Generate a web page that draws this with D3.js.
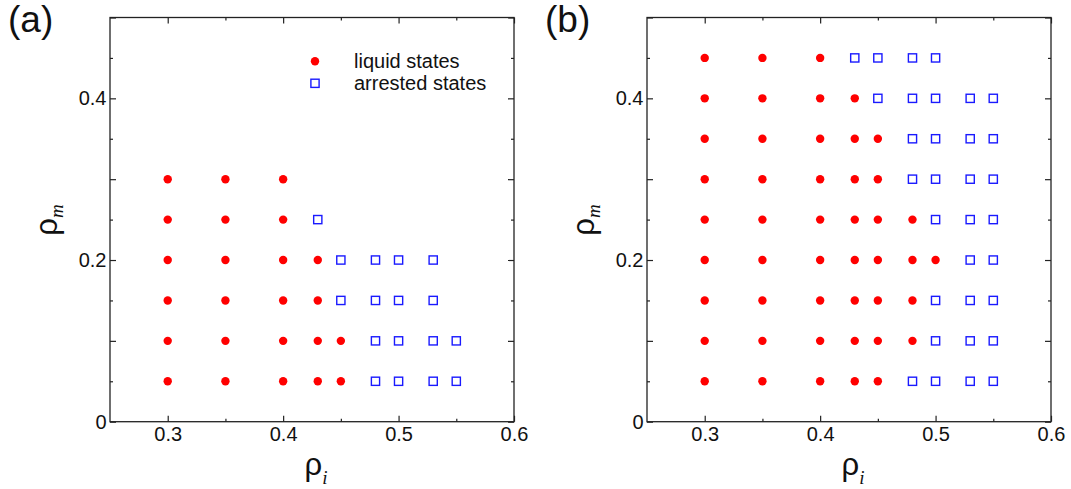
<html>
  <head>
    <meta charset="UTF-8" />
    <script src="https://d3js.org/d3.v7.min.js"></script>
    <style>
      body { margin: 0; background: #fff; }
      text { font-family: "Liberation Sans", Arial, sans-serif; fill: #111; }
    </style>
  </head>
  <body>
    <svg id="svg"></svg>
    <script>
      var width = 1071,
        height = 489;

      // tick values
      var xMajor = [0.3, 0.4, 0.5, 0.6];
      var xMinor = [0.35, 0.45, 0.55];
      var yMajor = [0, 0.1, 0.2, 0.3, 0.4, 0.5];
      var yMinor = [0.05, 0.15, 0.25, 0.35, 0.45];
      var yLabelled = [0, 0.2, 0.4];

      // panel (a): [rho_i, rho_m]
      var liquidA = [
        [0.3, 0.05], [0.3, 0.1], [0.3, 0.15], [0.3, 0.2], [0.3, 0.25], [0.3, 0.3],
        [0.35, 0.05], [0.35, 0.1], [0.35, 0.15], [0.35, 0.2], [0.35, 0.25], [0.35, 0.3],
        [0.4, 0.05], [0.4, 0.1], [0.4, 0.15], [0.4, 0.2], [0.4, 0.25], [0.4, 0.3],
        [0.43, 0.05], [0.43, 0.1], [0.43, 0.15], [0.43, 0.2],
        [0.45, 0.05], [0.45, 0.1]
      ];
      var arrestedA = [
        [0.43, 0.25],
        [0.45, 0.15], [0.45, 0.2],
        [0.48, 0.05], [0.48, 0.1], [0.48, 0.15], [0.48, 0.2],
        [0.5, 0.05], [0.5, 0.1], [0.5, 0.15], [0.5, 0.2],
        [0.53, 0.05], [0.53, 0.1], [0.53, 0.15], [0.53, 0.2],
        [0.55, 0.05], [0.55, 0.1]
      ];

      // panel (b)
      var liquidB = [
        [0.3, 0.05], [0.3, 0.1], [0.3, 0.15], [0.3, 0.2], [0.3, 0.25], [0.3, 0.3], [0.3, 0.35], [0.3, 0.4], [0.3, 0.45],
        [0.35, 0.05], [0.35, 0.1], [0.35, 0.15], [0.35, 0.2], [0.35, 0.25], [0.35, 0.3], [0.35, 0.35], [0.35, 0.4], [0.35, 0.45],
        [0.4, 0.05], [0.4, 0.1], [0.4, 0.15], [0.4, 0.2], [0.4, 0.25], [0.4, 0.3], [0.4, 0.35], [0.4, 0.4], [0.4, 0.45],
        [0.43, 0.05], [0.43, 0.1], [0.43, 0.15], [0.43, 0.2], [0.43, 0.25], [0.43, 0.3], [0.43, 0.35], [0.43, 0.4],
        [0.45, 0.05], [0.45, 0.1], [0.45, 0.15], [0.45, 0.2], [0.45, 0.25], [0.45, 0.3], [0.45, 0.35],
        [0.48, 0.1], [0.48, 0.15], [0.48, 0.2], [0.48, 0.25],
        [0.5, 0.2]
      ];
      var arrestedB = [
        [0.43, 0.45],
        [0.45, 0.4], [0.45, 0.45],
        [0.48, 0.05], [0.48, 0.3], [0.48, 0.35], [0.48, 0.4], [0.48, 0.45],
        [0.5, 0.05], [0.5, 0.1], [0.5, 0.15], [0.5, 0.25], [0.5, 0.3], [0.5, 0.35], [0.5, 0.4], [0.5, 0.45],
        [0.53, 0.05], [0.53, 0.1], [0.53, 0.15], [0.53, 0.2], [0.53, 0.25], [0.53, 0.3], [0.53, 0.35], [0.53, 0.4],
        [0.55, 0.05], [0.55, 0.1], [0.55, 0.15], [0.55, 0.2], [0.55, 0.25], [0.55, 0.3], [0.55, 0.35], [0.55, 0.4]
      ];

      var svg = d3.select("#svg").attr("width", width).attr("height", height);

      var pw = 404,
        ph = 404.2,
        plotTop = 17.5;
      var red = "#ff0000",
        blue = "#1a1aff",
        axisColor = "#222";

      function fmt(d) {
        return d === 0 ? "0" : d3.format(".1f")(d);
      }

      function drawPanel(left, tag, liquid, arrested, showLegend) {
        var g = svg.append("g").attr("transform", "translate(" + left + "," + plotTop + ")");

        var x = d3.scaleLinear().domain([0.25, 0.6]).range([0, pw]);
        var y = d3.scaleLinear().domain([0, 0.5]).range([ph, 0]);

        // ticks on all four sides, pointing inward
        function addAxis(axis, tr, labels) {
          var a = g.append("g").attr("transform", tr).call(axis);
          a.select(".domain").remove();
          a.selectAll("line").attr("stroke", axisColor).attr("stroke-width", 1.2);
          if (!labels) a.selectAll("text").remove();
          return a;
        }

        var bx = addAxis(
          d3.axisBottom(x).tickValues(xMajor).tickSize(-6).tickSizeOuter(0).tickPadding(5).tickFormat(fmt),
          "translate(0," + ph + ")", true
        );
        bx.selectAll("text").style("font-size", "20px").attr("fill", "#111");
        addAxis(d3.axisBottom(x).tickValues(xMinor).tickSize(-3).tickSizeOuter(0), "translate(0," + ph + ")", false);
        addAxis(d3.axisTop(x).tickValues(xMajor).tickSize(-6).tickSizeOuter(0), "translate(0,0)", false);
        addAxis(d3.axisTop(x).tickValues(xMinor).tickSize(-3).tickSizeOuter(0), "translate(0,0)", false);

        var ly = addAxis(
          d3.axisLeft(y).tickValues(yMajor).tickSize(-6).tickSizeOuter(0).tickPadding(3.5)
            .tickFormat((d) => (yLabelled.indexOf(d) >= 0 ? fmt(d) : "")),
          "translate(0,0)", true
        );
        ly.selectAll("text").style("font-size", "20px").attr("fill", "#111");
        addAxis(d3.axisLeft(y).tickValues(yMinor).tickSize(-3).tickSizeOuter(0), "translate(0,0)", false);
        addAxis(d3.axisRight(y).tickValues(yMajor).tickSize(-6).tickSizeOuter(0), "translate(" + pw + ",0)", false);
        addAxis(d3.axisRight(y).tickValues(yMinor).tickSize(-3).tickSizeOuter(0), "translate(" + pw + ",0)", false);

        // frame
        g.append("rect")
          .attr("width", pw)
          .attr("height", ph)
          .attr("fill", "none")
          .attr("stroke", axisColor)
          .attr("stroke-width", 1.3);

        // data
        g.append("g")
          .selectAll("circle")
          .data(liquid)
          .enter()
          .append("circle")
          .attr("cx", (d) => x(d[0]))
          .attr("cy", (d) => y(d[1]))
          .attr("r", 4.2)
          .attr("fill", red);

        var s = 8.2;
        g.append("g")
          .selectAll("rect")
          .data(arrested)
          .enter()
          .append("rect")
          .attr("x", (d) => x(d[0]) - s / 2)
          .attr("y", (d) => y(d[1]) - s / 2)
          .attr("width", s)
          .attr("height", s)
          .attr("fill", "none")
          .attr("stroke", blue)
          .attr("stroke-width", 1.4);

        // axis labels
        var xl = g.append("text")
          .attr("x", pw / 2 + 4)
          .attr("y", 475 - plotTop)
          .attr("text-anchor", "middle");
        xl.append("tspan").style("font-size", "31px").text("ρ");
        xl.append("tspan")
          .attr("dy", 9)
          .style("font-family", "'Liberation Serif', 'Times New Roman', serif")
          .style("font-style", "italic")
          .style("font-size", "19px")
          .text("i");

        var yl = g.append("text")
          .attr("transform", "translate(" + (57 - 110) + "," + (220 - plotTop) + ") rotate(-90)")
          .attr("text-anchor", "middle");
        yl.append("tspan").style("font-size", "31px").text("ρ");
        yl.append("tspan")
          .attr("dy", 6)
          .style("font-family", "'Liberation Serif', 'Times New Roman', serif")
          .style("font-style", "italic")
          .style("font-size", "19px")
          .text("m");

        // panel tag
        svg.append("text")
          .attr("x", left - 102)
          .attr("y", 32)
          .style("font-size", "37px")
          .text(tag);

        if (showLegend) {
          var lg = g.append("g").attr("transform", "translate(205,0)");
          lg.append("circle").attr("cx", 0).attr("cy", 61.3 - plotTop).attr("r", 4.2).attr("fill", red);
          lg.append("rect")
            .attr("x", -s / 2)
            .attr("y", 83.3 - plotTop - s / 2)
            .attr("width", s)
            .attr("height", s)
            .attr("fill", "none")
            .attr("stroke", blue)
            .attr("stroke-width", 1.4);
          lg.append("text").attr("x", 39).attr("y", 67.5 - plotTop).style("font-size", "20px").text("liquid states");
          lg.append("text").attr("x", 39).attr("y", 90 - plotTop).style("font-size", "20px").text("arrested states");
        }
      }

      drawPanel(110, "(a)", liquidA, arrestedA, true);
      drawPanel(647, "(b)", liquidB, arrestedB, false);
    </script>
  </body>
</html>
